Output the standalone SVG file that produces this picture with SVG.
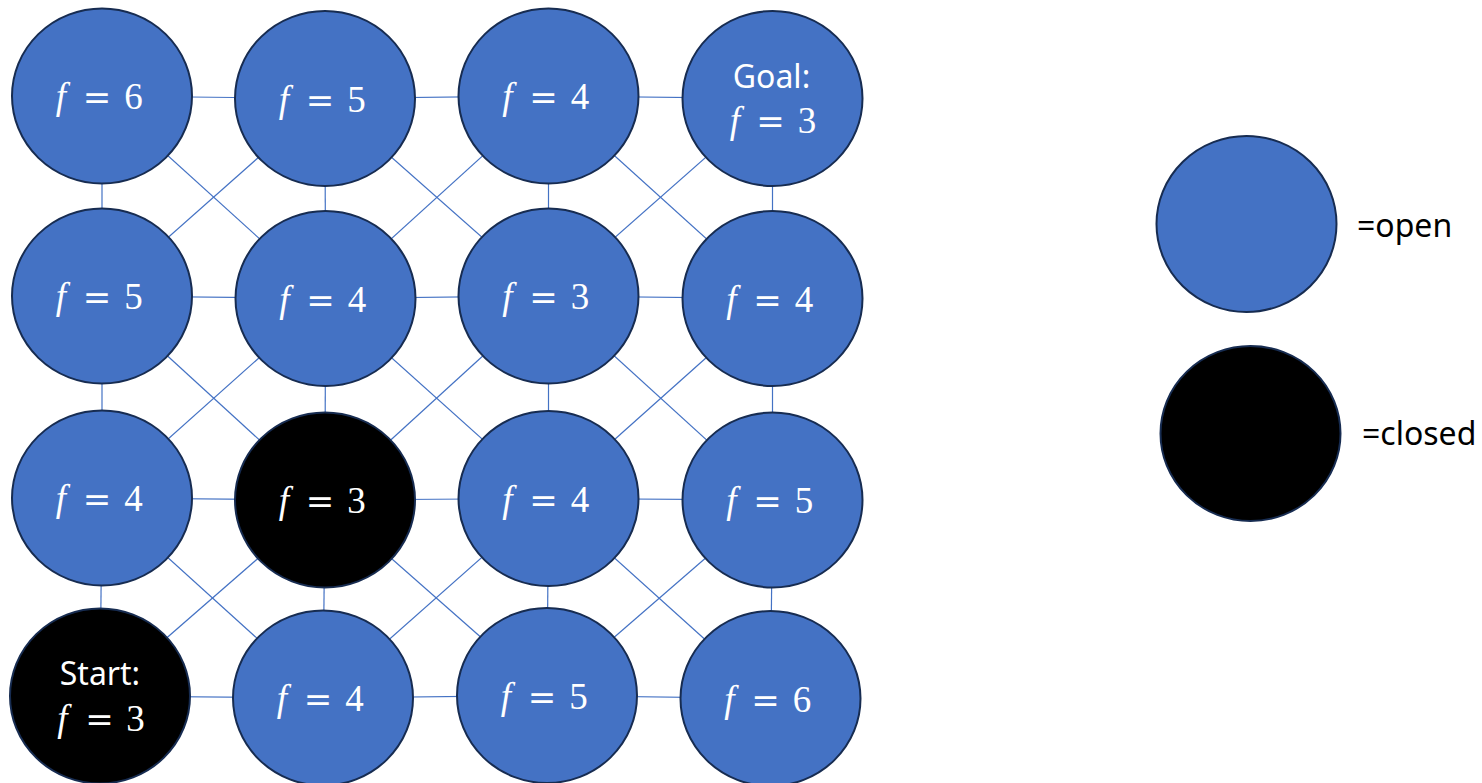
<svg xmlns="http://www.w3.org/2000/svg" width="1482" height="783" viewBox="0 0 1482 783">
<style>
.open{fill:#4472C4;stroke:#172C51;stroke-width:2}
.closed{fill:#000;stroke:#172C51;stroke-width:2}
.edges line{stroke:#4472C4;stroke-width:1.2}
.m{font-family:"Liberation Serif",serif;font-size:37px;fill:#fff;text-anchor:middle}
.fi{font-style:italic}
.eq{font-family:"DejaVu Serif",serif;font-size:34px}
.lbl{font-family:"Noto Sans","Open Sans",sans-serif;font-size:32px;fill:#fff;text-anchor:middle}
.leg{font-family:"Noto Sans","Open Sans",sans-serif;font-size:32px;fill:#000}
</style>
<rect width="1482" height="783" fill="#fff"/>
<g id="connectors" class="edges">
<line x1="102" y1="96" x2="325" y2="98.5"/>
<line x1="325" y1="98.5" x2="548.5" y2="96"/>
<line x1="548.5" y1="96" x2="772.5" y2="98.5"/>
<line x1="102" y1="296" x2="325.5" y2="298.5"/>
<line x1="325.5" y1="298.5" x2="548.5" y2="296"/>
<line x1="548.5" y1="296" x2="772.5" y2="298.5"/>
<line x1="102" y1="498" x2="325" y2="500"/>
<line x1="325" y1="500" x2="548.5" y2="498.5"/>
<line x1="548.5" y1="498.5" x2="772.5" y2="500"/>
<line x1="100" y1="696" x2="323" y2="698"/>
<line x1="323" y1="698" x2="547" y2="695.5"/>
<line x1="547" y1="695.5" x2="770.5" y2="698.5"/>
<line x1="102" y1="96" x2="102" y2="296"/>
<line x1="325" y1="98.5" x2="325.5" y2="298.5"/>
<line x1="548.5" y1="96" x2="548.5" y2="296"/>
<line x1="772.5" y1="98.5" x2="772.5" y2="298.5"/>
<line x1="102" y1="296" x2="102" y2="498"/>
<line x1="325.5" y1="298.5" x2="325" y2="500"/>
<line x1="548.5" y1="296" x2="548.5" y2="498.5"/>
<line x1="772.5" y1="298.5" x2="772.5" y2="500"/>
<line x1="102" y1="498" x2="100" y2="696"/>
<line x1="325" y1="500" x2="323" y2="698"/>
<line x1="548.5" y1="498.5" x2="547" y2="695.5"/>
<line x1="772.5" y1="500" x2="770.5" y2="698.5"/>
<line x1="102" y1="96" x2="325.5" y2="298.5"/>
<line x1="325" y1="98.5" x2="102" y2="296"/>
<line x1="325" y1="98.5" x2="548.5" y2="296"/>
<line x1="548.5" y1="96" x2="325.5" y2="298.5"/>
<line x1="548.5" y1="96" x2="772.5" y2="298.5"/>
<line x1="772.5" y1="98.5" x2="548.5" y2="296"/>
<line x1="102" y1="296" x2="325" y2="500"/>
<line x1="325.5" y1="298.5" x2="102" y2="498"/>
<line x1="325.5" y1="298.5" x2="548.5" y2="498.5"/>
<line x1="548.5" y1="296" x2="325" y2="500"/>
<line x1="548.5" y1="296" x2="772.5" y2="500"/>
<line x1="772.5" y1="298.5" x2="548.5" y2="498.5"/>
<line x1="102" y1="498" x2="323" y2="698"/>
<line x1="325" y1="500" x2="100" y2="696"/>
<line x1="325" y1="500" x2="547" y2="695.5"/>
<line x1="548.5" y1="498.5" x2="323" y2="698"/>
<line x1="548.5" y1="498.5" x2="770.5" y2="698.5"/>
<line x1="772.5" y1="500" x2="547" y2="695.5"/>
</g>
<g id="n00"><ellipse class="open" cx="102" cy="96" rx="90" ry="87.5"/><text class="m" y="109"><tspan class="fi" x="61">f</tspan><tspan class="eq" x="97">=</tspan><tspan x="133.5">6</tspan></text></g>
<g id="n01"><ellipse class="open" cx="325" cy="98.5" rx="90" ry="87.5"/><text class="m" y="111.5"><tspan class="fi" x="284">f</tspan><tspan class="eq" x="320">=</tspan><tspan x="356.5">5</tspan></text></g>
<g id="n02"><ellipse class="open" cx="548.5" cy="96" rx="90" ry="87.5"/><text class="m" y="109"><tspan class="fi" x="507.5">f</tspan><tspan class="eq" x="543.5">=</tspan><tspan x="580">4</tspan></text></g>
<g id="n03"><ellipse class="open" cx="772.5" cy="98.5" rx="90" ry="87.5"/><text class="lbl" x="771.5" y="88">Goal:</text><text class="m" y="133"><tspan class="fi" x="735">f</tspan><tspan class="eq" x="770.5">=</tspan><tspan x="807">3</tspan></text></g>
<g id="n10"><ellipse class="open" cx="102" cy="296" rx="90" ry="87.5"/><text class="m" y="309"><tspan class="fi" x="61">f</tspan><tspan class="eq" x="97">=</tspan><tspan x="133.5">5</tspan></text></g>
<g id="n11"><ellipse class="open" cx="325.5" cy="298.5" rx="90" ry="87.5"/><text class="m" y="311.5"><tspan class="fi" x="284.5">f</tspan><tspan class="eq" x="320.5">=</tspan><tspan x="357">4</tspan></text></g>
<g id="n12"><ellipse class="open" cx="548.5" cy="296" rx="90" ry="87.5"/><text class="m" y="309"><tspan class="fi" x="507.5">f</tspan><tspan class="eq" x="543.5">=</tspan><tspan x="580">3</tspan></text></g>
<g id="n13"><ellipse class="open" cx="772.5" cy="298.5" rx="90" ry="87.5"/><text class="m" y="311.5"><tspan class="fi" x="731.5">f</tspan><tspan class="eq" x="767.5">=</tspan><tspan x="804">4</tspan></text></g>
<g id="n20"><ellipse class="open" cx="102" cy="498" rx="90" ry="87.5"/><text class="m" y="511"><tspan class="fi" x="61">f</tspan><tspan class="eq" x="97">=</tspan><tspan x="133.5">4</tspan></text></g>
<g id="n21"><ellipse class="closed" cx="325" cy="500" rx="90" ry="87.5"/><text class="m" y="513"><tspan class="fi" x="284">f</tspan><tspan class="eq" x="320">=</tspan><tspan x="356.5">3</tspan></text></g>
<g id="n22"><ellipse class="open" cx="548.5" cy="498.5" rx="90" ry="87.5"/><text class="m" y="511.5"><tspan class="fi" x="507.5">f</tspan><tspan class="eq" x="543.5">=</tspan><tspan x="580">4</tspan></text></g>
<g id="n23"><ellipse class="open" cx="772.5" cy="500" rx="90" ry="87.5"/><text class="m" y="513"><tspan class="fi" x="731.5">f</tspan><tspan class="eq" x="767.5">=</tspan><tspan x="804">5</tspan></text></g>
<g id="n30"><ellipse class="closed" cx="100" cy="696" rx="90" ry="87.5"/><text class="lbl" x="100" y="685">Start:</text><text class="m" y="731"><tspan class="fi" x="62.5">f</tspan><tspan class="eq" x="99.5">=</tspan><tspan x="135.5">3</tspan></text></g>
<g id="n31"><ellipse class="open" cx="323" cy="698" rx="90" ry="87.5"/><text class="m" y="710.5"><tspan class="fi" x="282">f</tspan><tspan class="eq" x="318">=</tspan><tspan x="354.5">4</tspan></text></g>
<g id="n32"><ellipse class="open" cx="547" cy="695.5" rx="90" ry="87.5"/><text class="m" y="708.5"><tspan class="fi" x="506">f</tspan><tspan class="eq" x="542">=</tspan><tspan x="578.5">5</tspan></text></g>
<g id="n33"><ellipse class="open" cx="770.5" cy="698.5" rx="90" ry="87.5"/><text class="m" y="711.5"><tspan class="fi" x="729.5">f</tspan><tspan class="eq" x="765.5">=</tspan><tspan x="802">6</tspan></text></g>
<g id="legend-open"><ellipse class="open" cx="1246.5" cy="224" rx="90" ry="88"/><text class="leg" x="1357" y="237">=open</text></g>
<g id="legend-closed"><ellipse class="closed" cx="1250.5" cy="433.5" rx="90" ry="87.5"/><text class="leg" x="1362" y="445">=closed</text></g>
</svg>
